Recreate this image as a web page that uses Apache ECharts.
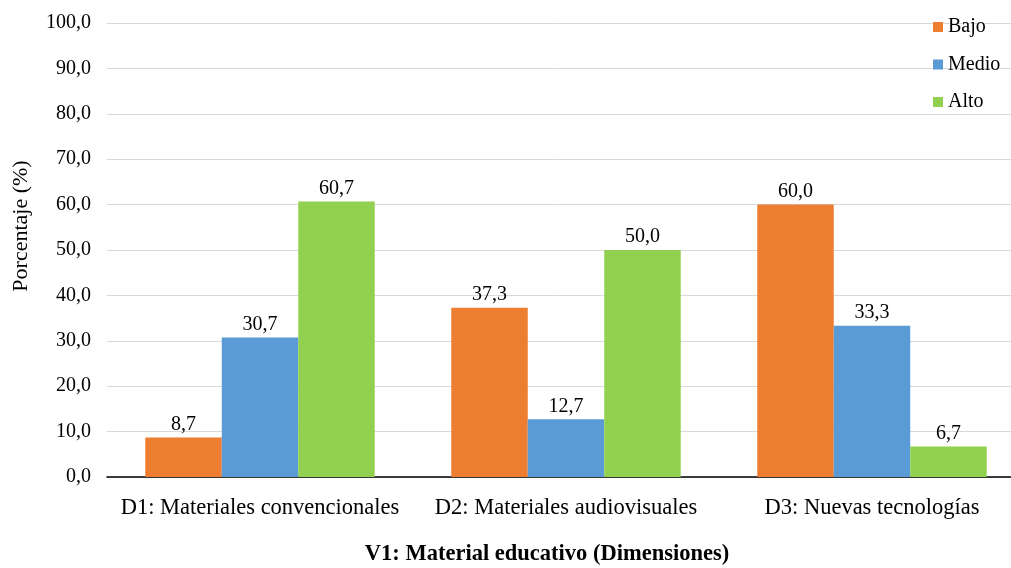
<!DOCTYPE html>
<html>
<head>
<meta charset="utf-8">
<script src="https://cdn.jsdelivr.net/npm/echarts@6/dist/echarts.min.js"></script>
<style>
  html, body { margin: 0; padding: 0; background: #fff; }
  #chart { width: 1011px; height: 568px; }
</style>
</head>
<body>
<div id="chart"></div>
<script>
// Dimensions of the teaching-material variable
const categories = ['D1: Materiales convencionales', 'D2: Materiales audiovisuales', 'D3: Nuevas tecnologías'];
const seriesNames = ['Bajo', 'Medio', 'Alto'];
const bajo = [8.7, 37.3, 60.0];
const medio = [30.7, 12.7, 33.3];
const alto = [60.7, 50.0, 6.7];
const colors = ['#ED7D31', '#5B9BD5', '#92D050'];

const FONT = '"Liberation Serif", "Times New Roman", serif';
const fmt = v => v.toFixed(1).replace('.', ',');

const chart = echarts.init(document.getElementById('chart'), null, { renderer: 'canvas' });

const makeSeries = (name, data, color) => ({
  name: name,
  type: 'bar',
  data: data,
  barGap: '0%',
  barCategoryGap: '25%',
  itemStyle: { color: color },
  label: {
    show: true,
    position: 'top',
    distance: 3,
    color: '#000',
    fontFamily: FONT,
    fontSize: 20,
    formatter: p => fmt(p.value)
  }
});

chart.setOption({
  animation: false,
  textStyle: { fontFamily: FONT },
  grid: { left: 107, top: 23, width: 918, bottom: 91, outerBoundsMode: 'none', containLabel: false },
  legend: {
    orient: 'vertical',
    left: 933,
    top: 17,
    padding: 0,
    itemWidth: 10,
    itemHeight: 10,
    itemGap: 17.5,
    icon: 'rect',
    textStyle: { fontFamily: FONT, fontSize: 20, color: '#000' },
    data: seriesNames
  },
  xAxis: {
    type: 'category',
    data: categories,
    axisLine: { lineStyle: { color: '#000', width: 1.5 } },
    axisTick: { show: false },
    axisLabel: { color: '#000', fontFamily: FONT, fontSize: 22.5, margin: 20, interval: 0 },
    name: 'V1: Material educativo (Dimensiones)',
    nameLocation: 'middle',
    nameGap: 66,
    nameTextStyle: { color: '#000', fontFamily: FONT, fontSize: 22.5, fontWeight: 'bold',
                     padding: [0, 38, 0, 0] }
  },
  yAxis: {
    type: 'value',
    min: 0,
    max: 100,
    interval: 10,
    axisLine: { show: false },
    axisTick: { show: false },
    splitLine: { lineStyle: { color: '#d9d9d9', width: 1 } },
    axisLabel: { color: '#000', fontFamily: FONT, fontSize: 20, margin: 16, formatter: v => fmt(v) },
    name: 'Porcentaje (%)',
    nameLocation: 'middle',
    nameGap: 75,
    nameRotate: 90,
    nameTextStyle: { color: '#000', fontFamily: FONT, fontSize: 22, padding: [0, 0, 0, 48] }
  },
  series: [
    makeSeries(seriesNames[0], bajo, colors[0]),
    makeSeries(seriesNames[1], medio, colors[1]),
    makeSeries(seriesNames[2], alto, colors[2])
  ]
});
</script>
</body>
</html>
